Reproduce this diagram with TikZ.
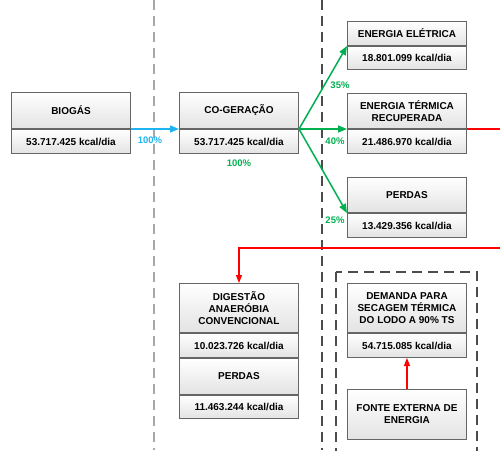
\documentclass[tikz,border=0pt]{standalone}
\usepackage{fontspec}
\setmainfont{Liberation Sans}
\usetikzlibrary{positioning}
\usetikzlibrary{arrows.meta}
\definecolor{flowblue}{RGB}{30,180,240}
\definecolor{flowgreen}{RGB}{0,176,80}
\tikzstyle{cell}=[draw=gray!80!black, line width=1pt, top color=white, bottom color=gray!22, minimum width=119pt, inner sep=2pt, align=center, anchor=north west, font=\fontsize{10}{12}\selectfont\bfseries]
\tikzstyle{pct}=[font=\fontsize{9.5}{11}\selectfont\bfseries]
\tikzstyle{sep}=[line width=1.1pt, dash pattern=on 10pt off 6pt]
\tikzstyle{flow}=[line width=1.5pt, -{Triangle[length=9pt,width=7pt]}]

\begin{document}
\begin{tikzpicture}[x=1pt,y=-1pt]
	\clip (0,0) rectangle (500,450);
	\fill[white] (0,0) rectangle (500,450);
	
	\draw[sep, gray!70] (154,0) -- (154,450);
	\draw[sep, black!70] (322,0) -- (322,450);
	\draw[sep, black!70] (336,272) rectangle (477,470);
	
	\node [cell, minimum height=36pt] (biogas) at (11,92) {BIOGÁS};
	\node [cell, minimum height=24pt, below=0pt of biogas] (biogasval) {53.717.425 kcal/dia};
	
	\node [cell, minimum height=36pt] (cogen) at (179,92) {CO-GERAÇÃO};
	\node [cell, minimum height=24pt, below=0pt of cogen] (cogenval) {53.717.425 kcal/dia};
	
	\node [cell, minimum height=24pt] (elec) at (347,21) {ENERGIA ELÉTRICA};
	\node [cell, minimum height=23pt, below=0pt of elec] (elecval) {18.801.099 kcal/dia};
	
	\node [cell, minimum height=35pt] (term) at (347,93) {ENERGIA TÉRMICA\\RECUPERADA};
	\node [cell, minimum height=24pt, below=0pt of term] (termval) {21.486.970 kcal/dia};
	
	\node [cell, minimum height=35pt] (loss) at (347,177) {PERDAS};
	\node [cell, minimum height=24pt, below=0pt of loss] (lossval) {13.429.356 kcal/dia};
	
	\node [cell, minimum height=49pt] (digest) at (179,283) {DIGESTÃO\\ANAERÓBIA\\CONVENCIONAL};
	\node [cell, minimum height=24pt, below=0pt of digest] (digestval) {10.023.726 kcal/dia};
	\node [cell, minimum height=36pt, below=0pt of digestval] (digloss) {PERDAS};
	\node [cell, minimum height=23pt, below=0pt of digloss] (diglossval) {11.463.244 kcal/dia};
	
	\node [cell, minimum height=49pt] (demand) at (347,283) {DEMANDA PARA\\SECAGEM TÉRMICA\\DO LODO A 90\% TS};
	\node [cell, minimum height=24pt, below=0pt of demand] (demandval) {54.715.085 kcal/dia};
	
	\node [cell, minimum height=50pt] (extern) at (347,389) {FONTE EXTERNA DE\\ENERGIA};
	
	\coordinate (termout) at (500,128);
	\coordinate (termin) at (500,248);
	
	% fluxos
	\draw[flow, flowblue] (biogas.south east) -- (cogen.south west);
	\node [pct, flowblue] (p100a) at (150,140) {100\%};
	\node [pct, flowgreen] (p100b) at (239,163) {100\%};
	
	\draw[flow, flowgreen] (cogen.south east) -- (elec.south west);
	\draw[flow, flowgreen] (cogen.south east) -- (term.south west);
	\draw[flow, flowgreen] (cogen.south east) -- (loss.south west);
	\node [pct, flowgreen] (p35) at (340,85) {35\%};
	\node [pct, flowgreen] (p40) at (335,141) {40\%};
	\node [pct, flowgreen] (p25) at (335,220) {25\%};
	
	\draw[red, line width=1.2pt] (term.south east) -- (term.south east -| termout);
	\draw[red, line width=1.2pt, -{Triangle[length=8pt,width=6pt]}] (termin) -| (digest.north);
	\draw[red, line width=1.2pt, -{Triangle[length=8pt,width=6pt]}] (extern.north) -- (demandval.south);
\end{tikzpicture}
\end{document}
